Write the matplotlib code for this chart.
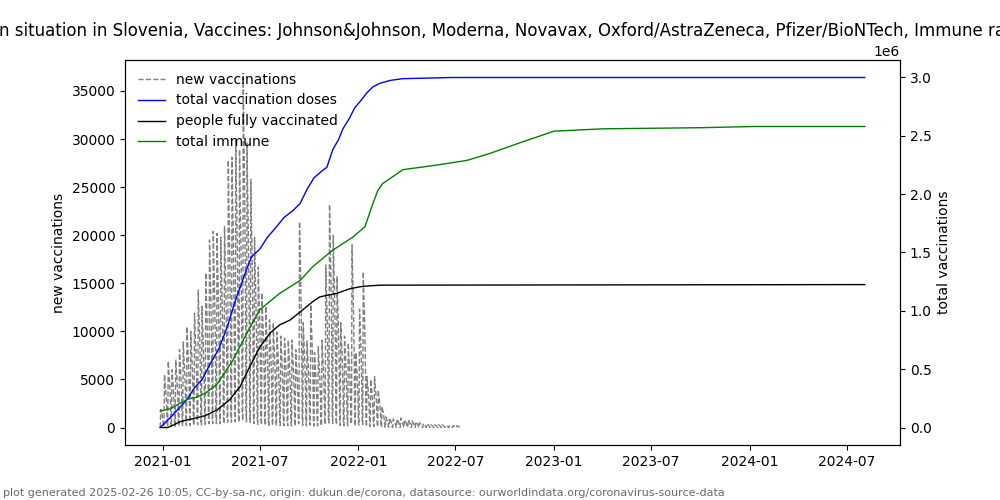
import numpy as np
import pandas as pd
import matplotlib
matplotlib.use('Agg')
from matplotlib import pyplot as plt

# weekly peak of daily new vaccinations, weeks starting 2020-12-27
week_start = '2020-12-27'
weekly_peak = [1900, 5500, 6900, 6000, 7000, 8100, 8900, 10500, 10000, 11900,
               14300, 12600, 16100, 19500, 20400, 20200, 19800, 20900, 27800, 28100,
               29900, 28900, 36400, 29600, 25800, 19800, 16700, 14000, 12600, 11200,
               10900, 9900, 9500, 9300, 9100, 9100, 8100, 21400, 10900, 9000,
               12800, 7800, 8400, 9100, 16900, 23200, 20000, 15700, 10900, 9500,
               8800, 19000, 7800, 12300, 16200, 5300, 5000, 5300, 3900, 2200,
               1100, 1000, 900, 900, 1000, 800, 800, 700, 600, 500,
               400, 400, 300, 300, 300, 300, 200, 200, 200, 200]
# share of the weekly peak per weekday (Sun..Sat)
weekday_share = [0.02, 1.0, 0.85, 0.75, 0.6, 0.4, 0.05]

# total vaccination doses
doses_dates = ['2020-12-27', '2021-01-15', '2021-02-01', '2021-02-15', '2021-03-01',
               '2021-03-15', '2021-04-01', '2021-04-15', '2021-05-01', '2021-05-15',
               '2021-06-01', '2021-06-15', '2021-07-01', '2021-07-15', '2021-08-01',
               '2021-08-15', '2021-09-01', '2021-09-14', '2021-09-28', '2021-10-10',
               '2021-10-25', '2021-11-03', '2021-11-14', '2021-11-25', '2021-12-03',
               '2021-12-15', '2021-12-25', '2022-01-05', '2022-01-17', '2022-01-28',
               '2022-02-10', '2022-03-01', '2022-03-25', '2022-06-25', '2024-08-03']
doses_vals = [0.0, 0.085, 0.17, 0.24, 0.34, 0.41, 0.56, 0.67, 0.86, 1.07,
              1.29, 1.46, 1.53, 1.63, 1.72, 1.80, 1.86, 1.92, 2.05, 2.14,
              2.20, 2.23, 2.38, 2.47, 2.56, 2.65, 2.74, 2.80, 2.87, 2.92,
              2.95, 2.975, 2.99, 3.0, 3.0]

# people fully vaccinated
full_dates = ['2020-12-27', '2021-01-10', '2021-01-20', '2021-02-02', '2021-03-02',
              '2021-03-20', '2021-04-12', '2021-05-06', '2021-05-25', '2021-06-12',
              '2021-07-01', '2021-07-20', '2021-08-07', '2021-08-26', '2021-09-14',
              '2021-10-08', '2021-10-21', '2021-11-22', '2021-12-16', '2022-01-09',
              '2022-02-10', '2024-08-03']
full_vals = [0.0, 0.0, 0.02, 0.05, 0.08, 0.10, 0.15, 0.24, 0.35, 0.52,
             0.69, 0.81, 0.88, 0.92, 0.99, 1.08, 1.12, 1.15, 1.19, 1.21,
             1.22, 1.225]

# total immune
immune_dates = ['2020-12-27', '2021-01-14', '2021-02-15', '2021-03-05', '2021-03-23',
                '2021-04-12', '2021-05-12', '2021-06-07', '2021-07-01', '2021-08-07',
                '2021-09-14', '2021-10-08', '2021-11-14', '2021-12-21', '2022-01-13',
                '2022-01-28', '2022-02-06', '2022-02-15', '2022-03-25', '2022-05-28',
                '2022-07-23', '2022-09-04', '2022-10-29', '2023-01-01', '2023-04-02',
                '2023-10-06', '2024-01-08', '2024-08-03']
immune_vals = [0.14, 0.16, 0.24, 0.26, 0.30, 0.37, 0.58, 0.81, 1.01, 1.15,
               1.26, 1.38, 1.52, 1.63, 1.72, 1.92, 2.03, 2.09, 2.21, 2.25,
               2.29, 2.35, 2.44, 2.54, 2.56, 2.57, 2.58, 2.58]

title = ('Vaccination situation in Slovenia, Vaccines: Johnson&Johnson, Moderna, Novavax, '
         'Oxford/AstraZeneca, Pfizer/BioNTech, Immune rate: 122.63 %')
footer = ('plot generated 2025-02-26 10:05, CC-by-sa-nc, origin: dukun.de/corona, '
          'datasource: ourworldindata.org/coronavirus-source-data')


def main():
    new_vacc = np.outer(weekly_peak, weekday_share).ravel()
    new_dates = pd.date_range(week_start, periods=len(new_vacc), freq='D')

    fig = plt.figure(figsize=(10, 5), dpi=100)
    ax = fig.add_subplot(111)
    ax2 = ax.twinx()

    l1, = ax.plot(new_dates, new_vacc, color='grey', linestyle='--', linewidth=1,
                  label='new vaccinations')
    l2, = ax2.plot(pd.to_datetime(doses_dates), np.array(doses_vals) * 1e6,
                   color='blue', linewidth=1, label='total vaccination doses')
    l3, = ax2.plot(pd.to_datetime(full_dates), np.array(full_vals) * 1e6,
                   color='black', linewidth=1, label='people fully vaccinated')
    l4, = ax2.plot(pd.to_datetime(immune_dates), np.array(immune_vals) * 1e6,
                   color='green', linewidth=1, label='total immune')

    ax.set_ylabel('new vaccinations')
    ax2.set_ylabel('total vaccinations')
    ax.set_title(title)
    ax2.legend(handles=[l1, l2, l3, l4], loc='upper left', frameon=False)

    fig.text(0.003, 0.008, footer, fontsize=8, color='dimgray')
    fig.savefig('out.png')


if __name__ == "__main__":
    main()
